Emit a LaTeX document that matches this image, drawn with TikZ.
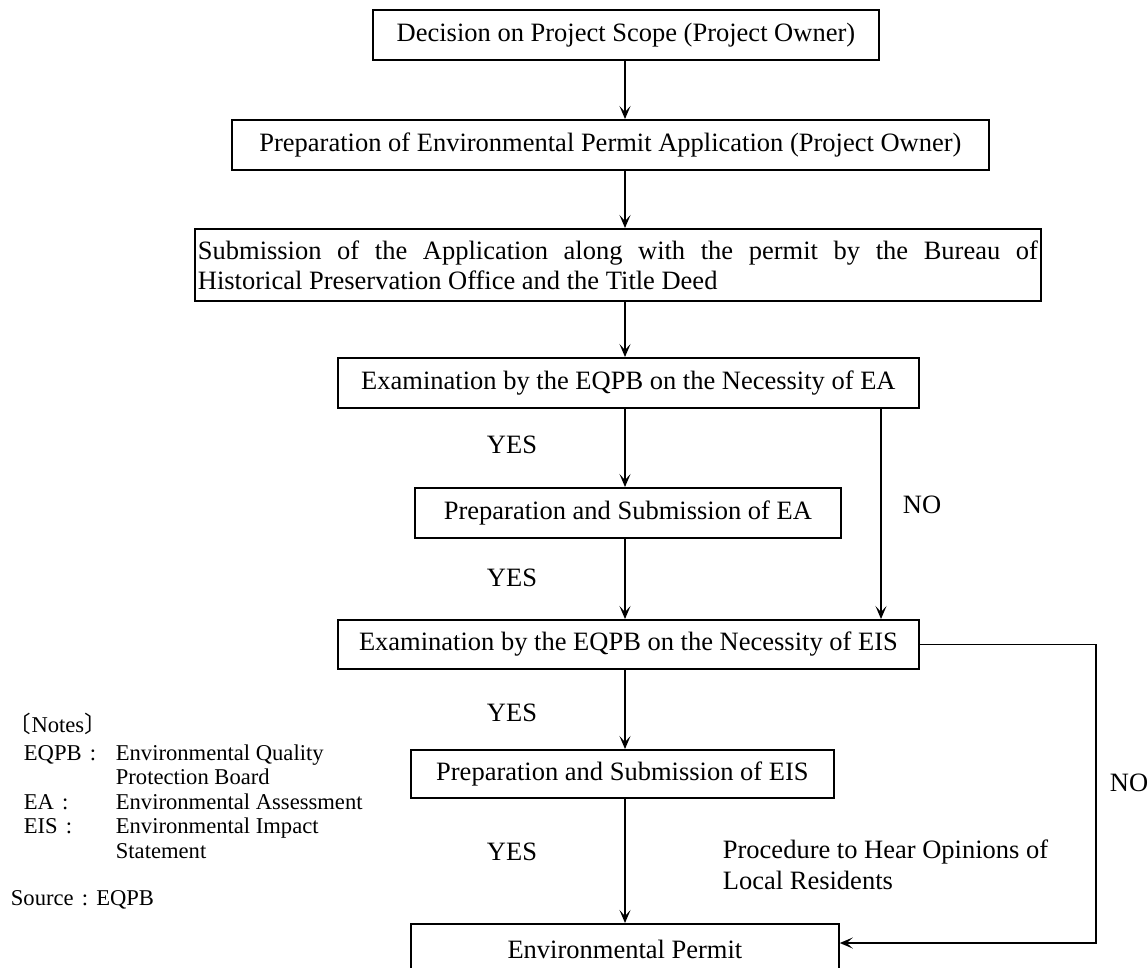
\documentclass[tikz,border=0pt]{standalone}
\usepackage{fontspec}
\setmainfont{Liberation Serif}
\newfontfamily\cjk{Noto Sans CJK JP}
\usetikzlibrary{arrows.meta,calc}
% a colon set in a full em box, as in the abbreviation list
\newcommand{\widecolon}{\makebox[1em]{:}}
\begin{document}
\begin{tikzpicture}[x=1pt,y=-1pt,
  line width=1.8pt,
  txt/.style={font=\fontsize{26.5}{30}\selectfont, inner sep=0pt},
  box/.style={txt, draw, anchor=north west},
  note/.style={font=\fontsize{22.6}{24.5}\selectfont, inner sep=0pt},
  flow/.style={-{Stealth[length=13pt,width=11pt,inset=6pt]}},
]
\useasboundingbox (0,0) rectangle (1148,967);
\clip (0,0) rectangle (1148,967);

% main chain of steps
\node[box, minimum width=506pt, minimum height=50pt] (b1) at (372,9)
  {Decision on Project Scope (Project Owner)};
\node[box, minimum width=757pt, minimum height=50pt] (b2) at (231,119)
  {Preparation of Environmental Permit Application (Project Owner)};
\node[box, text width=840pt, align=justify, inner xsep=3pt, minimum height=72pt] (b3) at (194,228)
  {Submission of the Application along with the permit by the Bureau of\linebreak
   Historical Preservation Office and the Title Deed};
\node[box, minimum width=581pt, minimum height=50pt] (b4) at (337,357)
  {Examination by the EQPB on the Necessity of EA};
\node[box, minimum width=426pt, minimum height=50pt] (b5) at (414,487)
  {Preparation and Submission of EA};
\node[box, minimum width=581pt, minimum height=49pt] (b6) at (337,619)
  {Examination by the EQPB on the Necessity of EIS};
\node[box, minimum width=423pt, minimum height=48pt] (b7) at (410,749)
  {Preparation and Submission of EIS};
\node[box, minimum width=428pt, minimum height=52pt] (b8) at (410,923)
  {Environmental Permit};

% connector guide positions
\coordinate (mx) at (625,0);
\coordinate (nx) at (881,0);
\coordinate (rx) at (1096,0);
\coordinate (pin) at ($(b8.north east)+(0,20)$);

\draw[flow] (b1.south -| mx) -- (b2.north -| mx);
\draw[flow] (b2.south -| mx) -- (b3.north -| mx);
\draw[flow] (b3.south -| mx) -- (b4.north -| mx);
\draw[flow] (b4.south -| mx) -- (b5.north -| mx);
\draw[flow] (b5.south -| mx) -- (b6.north -| mx);
\draw[flow] (b6.south -| mx) -- (b7.north -| mx);
\draw[flow] (b7.south -| mx) -- (b8.north -| mx);
\draw[flow] (b4.south -| nx) -- (b6.north -| nx);
\draw[flow] (b6.east) -| (rx |- pin) -- (pin);

% branch labels
\node[txt] (yes1) at (512,445) {YES};
\node[txt] (yes2) at (512,578) {YES};
\node[txt] (yes3) at (512,713) {YES};
\node[txt] (yes4) at (512,852) {YES};
\node[txt] (no1) at (922,505) {NO};
\node[txt] (no2) at (1129,783) {NO};

\node[txt, anchor=north west, align=left, font=\fontsize{26.5}{31}\selectfont] (proc) at (722,839)
  {Procedure to Hear Opinions of\\Local Residents};

% abbreviations
\node[note, anchor=base west] (notes) at (8,732) {{\cjk 〔}Notes{\cjk 〕}};
\node[note, anchor=base west] (abbr) at (23,760)
  {\begin{tabular}[t]{@{}p{92pt}@{}l@{}}
     EQPB\widecolon & Environmental Quality\\
                    & Protection Board\\
     EA\widecolon   & Environmental Assessment\\
     EIS\widecolon  & Environmental Impact\\
                    & Statement
   \end{tabular}};
\node[note, anchor=base west] (src) at (10,905) {Source\widecolon EQPB};
\end{tikzpicture}
\end{document}
